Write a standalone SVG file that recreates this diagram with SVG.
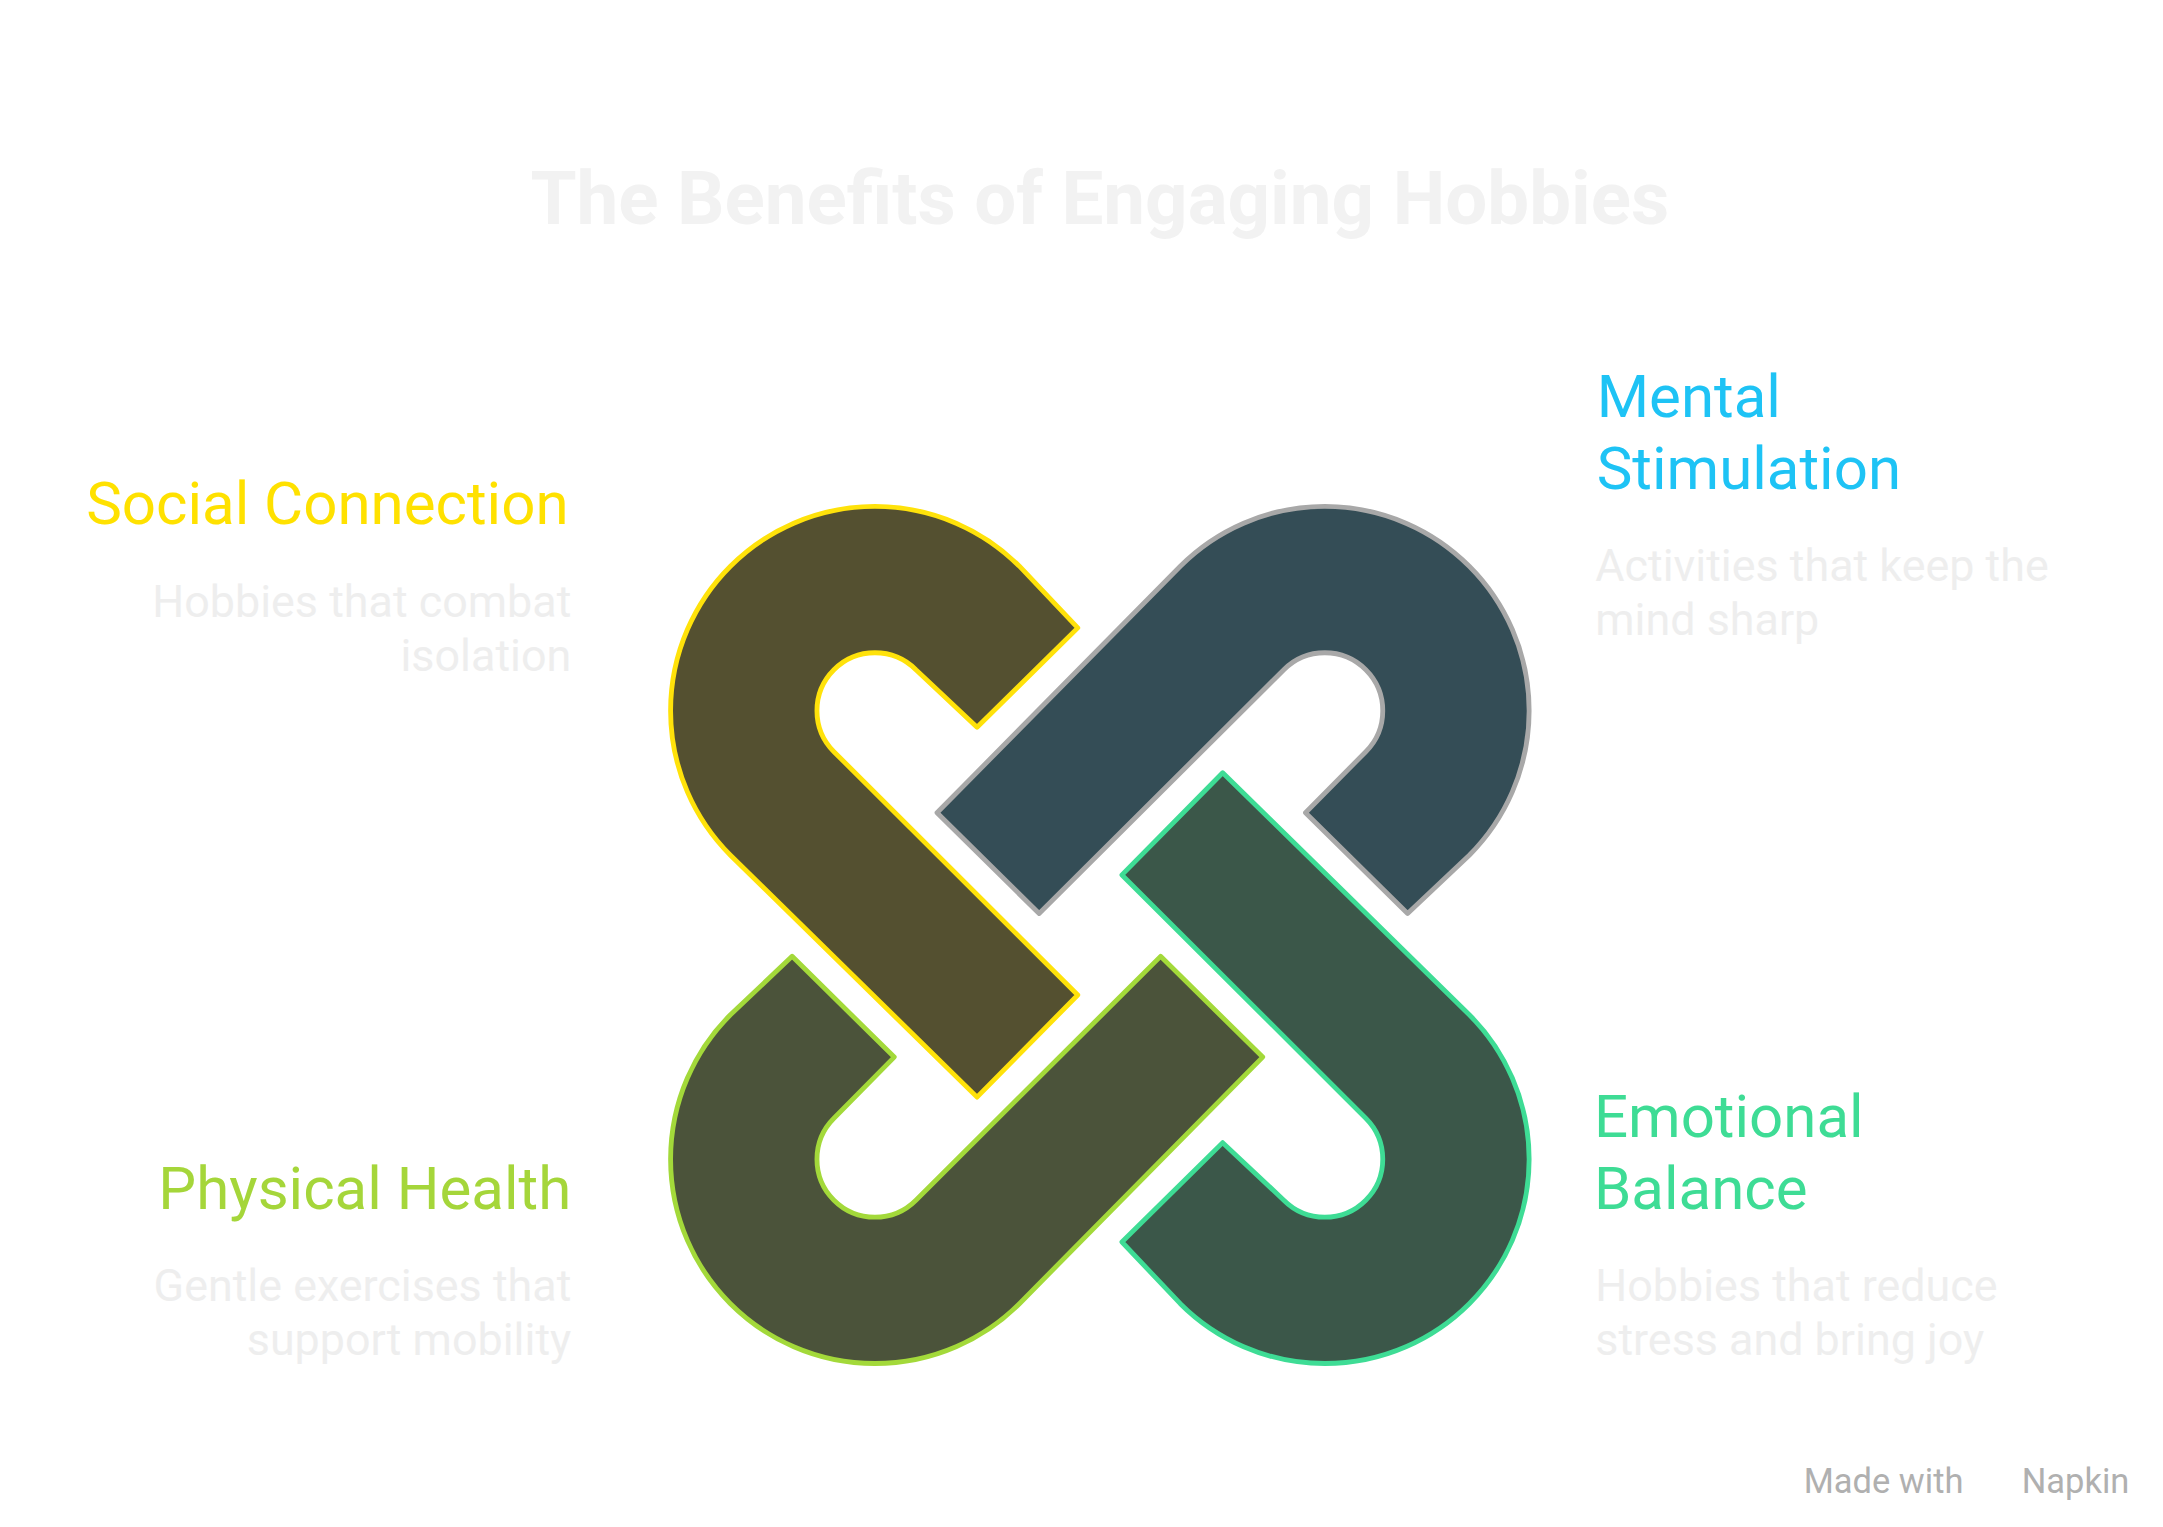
<svg xmlns="http://www.w3.org/2000/svg" width="2163" height="1527" viewBox="0 0 2163 1527">
<style>
text{font-family:Roboto,"Liberation Sans",sans-serif}
.h{font-size:43.5px}
.d{font-size:32.5px;fill:#EEEEEE}
.k{stroke-width:3.5;stroke-linejoin:round}
</style>
<rect width="2163" height="1527" fill="#fff"/>
<g transform="scale(1.38)">
<text x="797" y="162" text-anchor="middle" font-size="54" font-weight="bold" fill="#F2F2F2">The Benefits of Engaging Hobbies</text>
<g id="lime"><path class="k" transform="rotate(180 797 677.5)" fill="#4B533A" stroke="#A3D93A" d="M679,589 L855.3,410.3 A148,148 0 1 1 1064.7,619.7 L1020,662 L946,589 L989.7,544.7 A42,42 0 1 0 930.3,485.3 L753,662 Z"/></g>
<g id="green"><path class="k" transform="rotate(180 797 677.5)" fill="#3B5749" stroke="#3EDC95" d="M781,455 L738.7,410.3 A148,148 0 1 0 529.3,619.7 L708,795 L781,721 L604.3,544.7 A42,42 0 1 1 663.7,485.3 L708,527 Z"/></g>
<g id="yellow"><path class="k" fill="#545030" stroke="#FFE20A" d="M781,455 L738.7,410.3 A148,148 0 1 0 529.3,619.7 L708,795 L781,721 L604.3,544.7 A42,42 0 1 1 663.7,485.3 L708,527 Z"/></g>
<g id="gray"><path class="k" fill="#344D56" stroke="#A8A8A8" d="M679,589 L855.3,410.3 A148,148 0 1 1 1064.7,619.7 L1020,662 L946,589 L989.7,544.7 A42,42 0 1 0 930.3,485.3 L753,662 Z"/></g>
<g id="social" text-anchor="end">
<text class="h" x="412" y="380" fill="#FFE100">Social Connection</text>
<text class="d" x="414" y="447">Hobbies that combat</text>
<text class="d" x="414" y="486">isolation</text>
</g>
<g id="mental">
<text class="h" x="1157" y="302" fill="#1EC3F5">Mental</text>
<text class="h" x="1157" y="354" fill="#1EC3F5">Stimulation</text>
<text class="d" x="1156" y="421">Activities that keep the</text>
<text class="d" x="1156" y="460">mind sharp</text>
</g>
<g id="physical" text-anchor="end">
<text class="h" x="414" y="876" fill="#A5D63A">Physical Health</text>
<text class="d" x="414" y="943">Gentle exercises that</text>
<text class="d" x="414" y="982">support mobility</text>
</g>
<g id="emotional">
<text class="h" x="1155" y="824" fill="#3EDC95">Emotional</text>
<text class="h" x="1155" y="876" fill="#3EDC95">Balance</text>
<text class="d" x="1156" y="943">Hobbies that reduce</text>
<text class="d" x="1156" y="982">stress and bring joy</text>
</g>
<text x="1307" y="1082" font-size="25" fill="#B0B0B0">Made with</text>
<text x="1543" y="1082" font-size="25" fill="#B0B0B0" text-anchor="end">Napkin</text>
</g>
</svg>
